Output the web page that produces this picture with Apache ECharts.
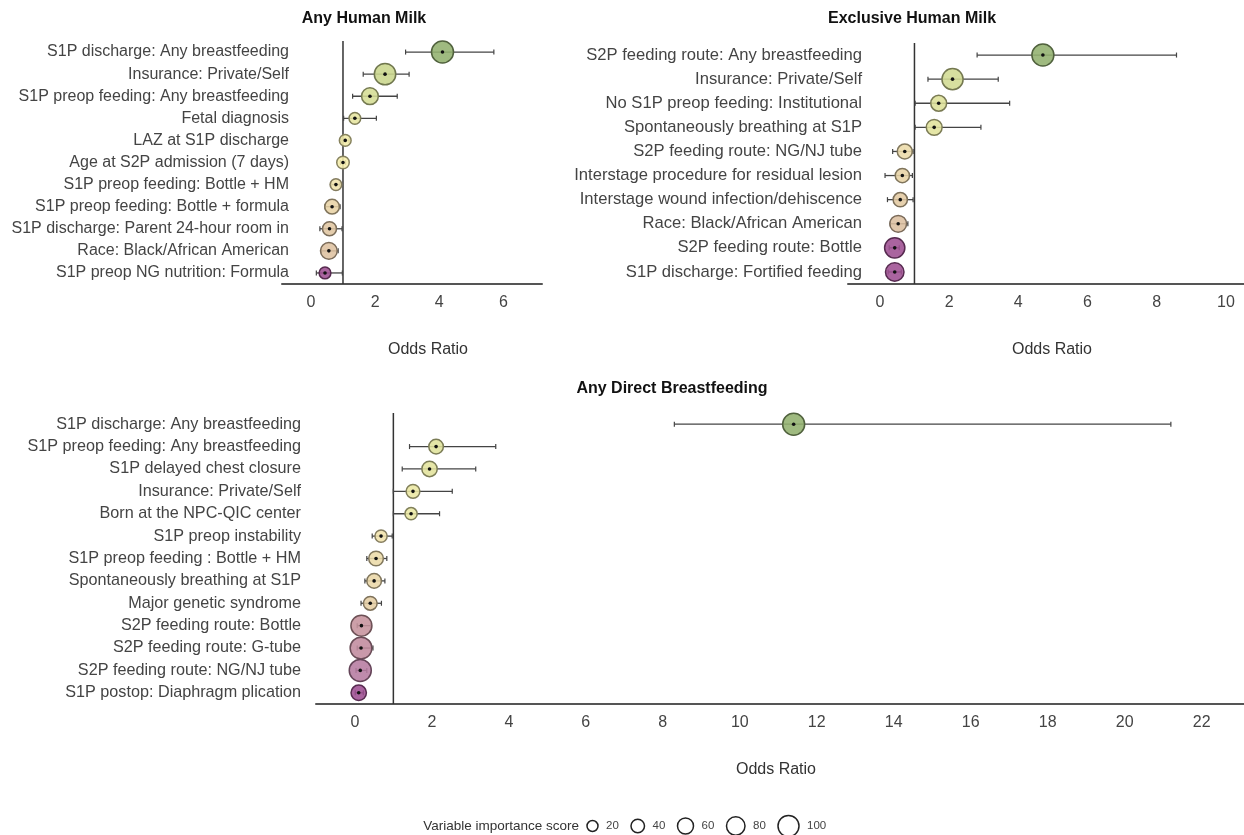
<!DOCTYPE html>
<html>
<head>
<meta charset="utf-8">
<script src="https://cdn.jsdelivr.net/npm/echarts@6/dist/echarts.min.js"></script>
<style>
  html, body { margin: 0; padding: 0; background: #fff; }
  #main { width: 1244px; height: 835px; }
</style>
</head>
<body>
<div id="main"></div>
<script>
// Any Human Milk
var hmLabels = ['S1P discharge: Any breastfeeding', 'Insurance: Private/Self', 'S1P preop feeding: Any breastfeeding',
  'Fetal diagnosis', 'LAZ at S1P discharge', 'Age at S2P admission (7 days)', 'S1P preop feeding: Bottle + HM',
  'S1P preop feeding: Bottle + formula', 'S1P discharge: Parent 24-hour room in', 'Race: Black/African American',
  'S1P preop NG nutrition: Formula'];
var hmOR    = [4.10, 2.31, 1.84, 1.37, 1.07, 1.00, 0.78, 0.66, 0.58, 0.56, 0.44];
var hmLow   = [2.95, 1.63, 1.30, 1.02, 0.94, 0.92, 0.64, 0.44, 0.28, 0.33, 0.17];
var hmHigh  = [5.70, 3.06, 2.69, 2.04, 1.19, 1.08, 0.91, 0.91, 0.97, 0.85, 0.98];
var hmScore = [100, 95, 58, 18, 18, 24, 18, 41, 36, 58, 18];

// Exclusive Human Milk
var exLabels = ['S2P feeding route: Any breastfeeding', 'Insurance: Private/Self', 'No S1P preop feeding: Institutional',
  'Spontaneously breathing at S1P', 'S2P feeding route: NG/NJ tube', 'Interstage procedure for residual lesion',
  'Interstage wound infection/dehiscence', 'Race: Black/African American', 'S2P feeding route: Bottle',
  'S1P discharge: Fortified feeding'];
var exOR    = [4.71, 2.10, 1.70, 1.57, 0.72, 0.65, 0.59, 0.53, 0.43, 0.43];
var exLow   = [2.81, 1.39, 1.02, 1.02, 0.37, 0.15, 0.22, 0.30, 0.27, 0.24];
var exHigh  = [8.57, 3.42, 3.75, 2.92, 0.96, 0.94, 0.96, 0.81, 0.56, 0.62];
var exScore = [100, 93, 51, 51, 44, 38, 38, 58, 86, 72];

// Any Direct Breastfeeding
var dbLabels = ['S1P discharge: Any breastfeeding', 'S1P preop feeding: Any breastfeeding', 'S1P delayed chest closure',
  'Insurance: Private/Self', 'Born at the NPC-QIC center', 'S1P preop instability', 'S1P preop feeding : Bottle + HM',
  'Spontaneously breathing at S1P', 'Major genetic syndrome', 'S2P feeding route: Bottle', 'S2P feeding route: G-tube',
  'S2P feeding route: NG/NJ tube', 'S1P postop: Diaphragm plication'];
var dbOR    = [11.4, 2.11, 1.94, 1.51, 1.46, 0.68, 0.55, 0.50, 0.40, 0.17, 0.16, 0.14, 0.10];
var dbLow   = [8.30, 1.42, 1.23, 1.00, 1.00, 0.45, 0.31, 0.26, 0.16, 0.06, 0.06, 0.03, 0.01];
var dbHigh  = [21.2, 3.66, 3.14, 2.53, 2.20, 0.97, 0.83, 0.78, 0.69, 0.42, 0.47, 0.31, 0.22];
var dbScore = [100, 41, 47, 34, 22, 22, 41, 41, 34, 92, 98, 100, 47];

var hmTicks = [0, 2, 4, 6];
var exTicks = [0, 2, 4, 6, 8, 10];
var dbTicks = [0, 2, 4, 6, 8, 10, 12, 14, 16, 18, 20, 22];
var legendScores = [20, 40, 60, 80, 100];
var refOR = 1;

var FONT = '"Liberation Sans", Arial, sans-serif';

function sizeOf(score) { return 9.5 + 0.125 * score; }

// colour stops, low side (purple) and high side (green)
var lowStops = [[0, [246, 238, 172]], [0.4, [240, 226, 172]], [0.65, [230, 208, 164]], [0.83, [220, 190, 160]],
  [0.91, [204, 156, 156]], [0.96, [180, 120, 160]], [1, [158, 78, 146]]];
var highStops = [[0, [246, 238, 172]], [0.2, [232, 230, 160]], [0.4, [216, 222, 150]], [0.6, [200, 214, 140]],
  [1, [146, 176, 110]]];

function interp(stops, t) {
  t = Math.max(0, Math.min(1, t));
  for (var i = 1; i < stops.length; i++) {
    if (t <= stops[i][0]) {
      var a = stops[i - 1], b = stops[i];
      var k = (t - a[0]) / (b[0] - a[0]);
      return [0, 1, 2].map(function (j) { return Math.round(a[1][j] + (b[1][j] - a[1][j]) * k); });
    }
  }
  return stops[stops.length - 1][1];
}

function colorFor(v, minV, maxV) {
  if (v < 1) return interp(lowStops, (1 - v) / (1 - minV));
  return interp(highStops, Math.log(v) / Math.log(maxV));
}

function makeSeries(idx, orArr, loArr, hiArr, scoreArr) {
  var minV = Math.min.apply(null, orArr), maxV = Math.max.apply(null, orArr);
  var data = orArr.map(function (v, i) { return [loArr[i], v, hiArr[i], i, scoreArr[i]]; });
  return {
    type: 'custom',
    xAxisIndex: idx,
    yAxisIndex: idx,
    data: data,
    encode: { x: [0, 1, 2], y: 3 },
    z: 3,
    renderItem: function (params, api) {
      var y = api.value(3);
      var pLo = api.coord([api.value(0), y]);
      var pMid = api.coord([api.value(1), y]);
      var pHi = api.coord([api.value(2), y]);
      var r = sizeOf(api.value(4)) / 2;
      var c = colorFor(api.value(1), minV, maxV);
      var fill = 'rgba(' + c.join(',') + ',0.88)';
      var stroke = 'rgb(' + c.map(function (x) { return Math.round(x * 0.55); }).join(',') + ')';
      return {
        type: 'group',
        children: [
          { type: 'line', shape: { x1: pLo[0], y1: pLo[1], x2: pHi[0], y2: pHi[1] }, style: { stroke: '#444', lineWidth: 1.3 } },
          { type: 'line', shape: { x1: pLo[0], y1: pLo[1] - 2.5, x2: pLo[0], y2: pLo[1] + 2.5 }, style: { stroke: '#444', lineWidth: 1.2 } },
          { type: 'line', shape: { x1: pHi[0], y1: pHi[1] - 2.5, x2: pHi[0], y2: pHi[1] + 2.5 }, style: { stroke: '#444', lineWidth: 1.2 } },
          { type: 'circle', shape: { cx: pMid[0], cy: pMid[1], r: r }, style: { fill: fill, stroke: stroke, lineWidth: 1.5 } },
          { type: 'circle', shape: { cx: pMid[0], cy: pMid[1], r: 1.8 }, style: { fill: '#111' } }
        ]
      };
    }
  };
}

// vertical reference line at OR = 1, drawn on a hidden 0..1 value axis
function makeRefLine(idx) {
  return {
    type: 'line', xAxisIndex: idx, yAxisIndex: 3 + idx, z: 2,
    data: [[refOR, 0], [refOR, 1]],
    symbol: 'none', silent: true,
    lineStyle: { color: '#333', width: 1.5 }
  };
}

function makeX(idx, min, max, ticks, nameGap, namePad) {
  return {
    type: 'value', gridIndex: idx, min: min, max: max,
    splitLine: { show: false },
    axisTick: { show: false },
    axisLine: { show: true, onZero: false, lineStyle: { color: '#555', width: 2 } },
    axisLabel: { customValues: ticks, color: '#444', fontSize: 16, margin: 11, fontFamily: FONT },
    name: 'Odds Ratio', nameLocation: 'middle', nameGap: nameGap,
    nameTextStyle: { color: '#333', fontSize: 16, fontFamily: FONT, padding: namePad }
  };
}

function makeY(idx, labels, fontSize, margin) {
  return {
    type: 'category', gridIndex: idx, data: labels, inverse: true,
    axisLine: { show: false }, axisTick: { show: false }, splitLine: { show: false },
    axisLabel: { color: '#444', fontSize: fontSize, margin: margin, fontFamily: FONT }
  };
}

function makeHiddenY(idx) {
  return { type: 'value', gridIndex: idx, min: 0, max: 1, show: false, splitLine: { show: false } };
}

var chart = echarts.init(document.getElementById('main'));

var graphics = [
  { type: 'text', x: 364, y: 19, style: { text: 'Any Human Milk', align: 'center', verticalAlign: 'middle', font: 'bold 16px ' + FONT, fill: '#111' } },
  { type: 'text', x: 912, y: 19, style: { text: 'Exclusive Human Milk', align: 'center', verticalAlign: 'middle', font: 'bold 16px ' + FONT, fill: '#111' } },
  { type: 'text', x: 672, y: 389, style: { text: 'Any Direct Breastfeeding', align: 'center', verticalAlign: 'middle', font: 'bold 16px ' + FONT, fill: '#111' } },
  { type: 'text', x: 579, y: 826, style: { text: 'Variable importance score', align: 'right', verticalAlign: 'middle', font: '13.5px ' + FONT, fill: '#333' } }
];
// size legend
var lx = 587;
legendScores.forEach(function (s) {
  var r = (sizeOf(s) - 1) / 2;
  graphics.push({ type: 'circle', shape: { cx: lx + r, cy: 826, r: r }, style: { fill: 'none', stroke: '#222', lineWidth: 1.5 } });
  graphics.push({ type: 'text', x: lx + 2 * r + 8, y: 826, style: { text: String(s), align: 'left', verticalAlign: 'middle', font: '11.5px ' + FONT, fill: '#444' } });
  lx += 2 * r + 8 + 25;
});

chart.setOption({
  backgroundColor: '#fff',
  animation: false,
  grid: [
    { left: 282, top: 41, width: 260, height: 243 },
    { left: 848, top: 43, width: 396, height: 241 },
    { left: 316, top: 413, width: 928, height: 291 }
  ],
  xAxis: [
    makeX(0, -0.9, 7.2, hmTicks, 58, [0, 0, 0, 32]),
    makeX(1, -0.92, 10.52, exTicks, 58, [0, 0, 0, 12]),
    makeX(2, -1.01, 23.1, dbTicks, 58, [0, 8, 0, 0])
  ],
  yAxis: [
    makeY(0, hmLabels, 16, -7),
    makeY(1, exLabels, 16.6, -14),
    makeY(2, dbLabels, 16.2, 15),
    makeHiddenY(0), makeHiddenY(1), makeHiddenY(2)
  ],
  graphic: graphics,
  series: [
    makeRefLine(0), makeRefLine(1), makeRefLine(2),
    makeSeries(0, hmOR, hmLow, hmHigh, hmScore),
    makeSeries(1, exOR, exLow, exHigh, exScore),
    makeSeries(2, dbOR, dbLow, dbHigh, dbScore)
  ]
});
</script>
</body>
</html>
